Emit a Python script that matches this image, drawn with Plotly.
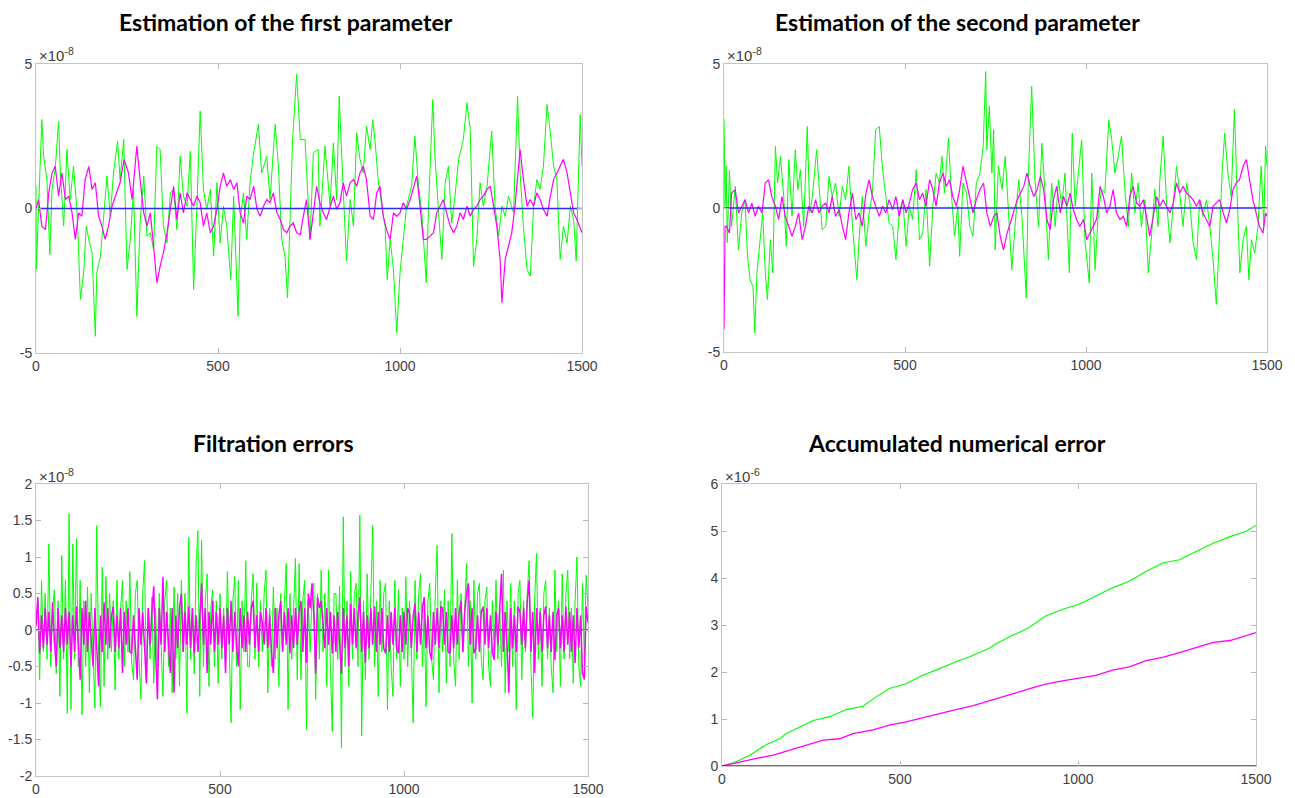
import plotly.graph_objects as go

# The page body adds an 8px margin around the figure; fit the figure into the rest
PAGE_W, PAGE_H, BODY_MARGIN = 1295, 798, 8
W, H = PAGE_W - 2 * BODY_MARGIN, PAGE_H - BODY_MARGIN

# ---------------- data (values in units of the axis exponent) ----------------
# Panel 1: estimation of the first parameter (x1e-8)
p1_green_x = [0, 1, 16, 21, 30, 38, 44, 53, 62, 67,
              76, 85, 94, 103, 113, 122, 131, 138, 145, 154,
              163, 167, 177, 186, 195, 204, 213, 224, 231, 241,
              250, 259, 268, 277, 286, 296, 305, 314, 323, 332,
              341, 350, 360, 369, 378, 387, 396, 405, 415, 424,
              433, 442, 451, 460, 469, 479, 488, 497, 506, 515,
              524, 535, 543, 555, 561, 570, 579, 588, 598, 611,
              620, 634, 643, 657, 666, 675, 684, 691, 698, 705,
              716, 726, 739, 753, 762, 775, 780, 794, 808, 817,
              826, 833, 840, 844, 853, 863, 872, 881, 890, 899,
              908, 918, 925, 931, 940, 950, 959, 965, 973, 982,
              991, 1000, 1009, 1018, 1032, 1041, 1051, 1060, 1072, 1078,
              1090, 1096, 1106, 1115, 1124, 1133, 1142, 1151, 1161, 1174,
              1184, 1193, 1202, 1211, 1220, 1229, 1239, 1252, 1261, 1271,
              1280, 1289, 1298, 1312, 1323, 1330, 1339, 1349, 1358, 1367,
              1376, 1385, 1394, 1404, 1413, 1422, 1431, 1440, 1449, 1459,
              1468, 1477, 1484, 1491, 1495, 1500]
p1_green_y = [0.8, -2.1, 3.08, 1.81, 1.0, -1.59, 0.66, 1.41, 3.02, 1.23,
              -0.61, 2.04, 0.31, 1.46, -0.15, -3.15, -2.23, -0.61, -1.07, -1.53,
              -4.42, -2.23, -1.65, -0.38, 1.12, -0.27, 1.23, 2.33, 1.0, 2.39,
              -2.11, -1.07, 0.66, -3.73, -0.5, 1.12, -0.96, -0.84, -1.42, 2.16,
              2.04, -0.61, -1.19, 0.54, 0.66, -0.73, 1.81, 0.43, 0.08, 1.98,
              -2.8, 0.08, 3.37, 0.66, -0.03, 0.66, -1.65, 0.89, -1.19, 0.08,
              -0.61, -2.46, 0.43, -3.73, -0.38, 0.54, -1.07, 0.89, 1.93, 2.91,
              1.23, 1.81, 0.31, 2.91, 1.46, -1.07, -1.65, -3.09, 0.08, 2.39,
              4.64, 2.39, 2.39, -1.07, 1.93, 2.04, -0.61, 2.16, 0.08, 2.27,
              0.31, 3.89, 1.81, 0.54, -1.82, 0.31, -0.61, 2.62, 1.7, 1.23,
              2.85, 2.04, 3.08, 2.39, 1.0, 0.08, -0.61, -2.46, -1.07, -2.11,
              -4.3, -2.23, -1.07, 0.08, 0.77, 2.5, 0.77, -0.15, -2.57, -0.15,
              3.77, 1.81, -0.15, -1.76, 0.89, 1.46, -0.5, 0.43, 1.7, 2.39,
              3.66, 2.73, -2.0, -1.07, 0.89, 0.08, 0.77, 2.68, 0.08, -0.96,
              0.08, -0.27, 0.43, -0.15, 3.89, 1.23, -0.61, -2.11, -2.34, 0.08,
              1.0, 0.66, 1.46, 3.6, 2.62, 1.46, 1.0, -1.76, -0.61, -1.19,
              0.08, -0.38, -1.82, 1.46, 3.25, 1.46]

p1_mag_x = [0, 7, 16, 26, 35, 44, 53, 62, 71, 81,
            90, 99, 108, 117, 126, 135, 145, 154, 163, 172,
            181, 190, 199, 209, 218, 231, 242, 254, 264, 277,
            286, 296, 305, 314, 323, 332, 341, 350, 360, 369,
            378, 387, 396, 405, 415, 424, 433, 442, 451, 460,
            469, 479, 488, 497, 506, 515, 524, 534, 543, 552,
            561, 570, 579, 588, 598, 607, 616, 625, 634, 643,
            652, 662, 671, 680, 689, 698, 707, 716, 726, 734,
            743, 753, 762, 771, 780, 789, 798, 808, 817, 826,
            835, 844, 853, 863, 872, 881, 890, 899, 908, 918,
            927, 936, 945, 954, 963, 973, 982, 991, 1000, 1009,
            1018, 1028, 1037, 1046, 1055, 1064, 1073, 1083, 1092, 1101,
            1110, 1119, 1128, 1138, 1147, 1156, 1165, 1174, 1184, 1193,
            1202, 1211, 1220, 1229, 1239, 1248, 1257, 1266, 1275, 1280,
            1289, 1298, 1307, 1316, 1326, 1330, 1339, 1349, 1358, 1367,
            1376, 1385, 1394, 1404, 1413, 1422, 1431, 1440, 1449, 1459,
            1468, 1477, 1486, 1500]
p1_mag_y = [0.0, 0.31, -0.61, -0.73, 0.54, 1.23, 1.46, 0.43, 1.23, 0.31,
            0.43, -0.15, -1.07, -0.15, -0.27, 1.0, 1.46, 0.66, 0.89, -0.27,
            -0.61, -1.07, -0.61, 0.08, 0.43, 0.89, 1.7, 1.23, 0.31, 2.16,
            1.0, -0.15, -0.61, -0.15, -1.3, -2.57, -2.0, -1.53, -0.84, -0.03,
            0.77, -0.38, 0.54, -0.15, 0.54, 0.31, 0.08, 0.43, 0.2, -0.61,
            -0.15, -0.84, -0.61, -0.03, 0.77, 1.23, 0.77, 1.0, 0.66, 0.89,
            -0.15, -0.5, 0.43, 0.31, 0.77, -0.03, -0.27, 0.08, 0.31, 0.2,
            0.54, -0.15, -0.38, -0.73, -0.84, -0.61, -0.5, -0.84, -0.9, -0.3,
            0.31, -1.07, -0.03, 0.77, 0.2, -0.15, -0.38, 0.08, 0.43, -0.03,
            0.2, 0.89, 0.43, 0.89, 1.0, 0.77, 1.23, 1.46, 1.0, -0.27,
            -0.38, 0.54, 0.77, -0.27, -0.73, -1.07, -0.15, -0.27, -0.15, 0.2,
            -0.03, 0.31, 0.77, 1.12, 0.08, -1.07, -1.07, -0.96, -0.84, -0.15,
            0.08, 0.31, -0.15, -0.61, -0.84, -0.61, -0.15, -0.38, 0.08, -0.27,
            -0.03, 0.08, 0.31, 0.43, 0.66, 0.77, 0.08, -0.61, -1.76, -3.26,
            -1.76, -1.3, -0.84, 0.08, 1.58, 2.04, 1.0, 0.08, 0.31, 0.08,
            0.54, 0.31, -0.03, -0.27, 0.43, 1.0, 1.23, 1.46, 1.7, 1.23,
            0.54, -0.15, -0.38, -0.84]

# Panel 2: estimation of the second parameter (x1e-8)
p2_green_x = [0, 3, 6, 9, 15, 21, 31, 40, 49, 58,
              65, 72, 80, 85, 91, 100, 107, 114, 120, 128,
              135, 142, 148, 156, 165, 172, 179, 188, 197, 204,
              211, 220, 230, 237, 244, 256, 262, 271, 281, 290,
              299, 308, 318, 327, 336, 345, 355, 367, 373, 382,
              392, 401, 410, 419, 429, 438, 447, 456, 466, 475,
              484, 494, 503, 512, 521, 531, 540, 549, 558, 568,
              577, 586, 595, 602, 609, 620, 628, 637, 646, 651,
              660, 670, 679, 688, 697, 707, 716, 723, 726, 733,
              740, 745, 749, 758, 768, 777, 786, 795, 804, 814,
              823, 835, 841, 850, 859, 869, 878, 887, 896, 905,
              915, 924, 933, 942, 954, 962, 970, 979, 988, 997,
              1009, 1016, 1025, 1034, 1043, 1052, 1063, 1071, 1080, 1089,
              1098, 1108, 1117, 1126, 1135, 1144, 1153, 1163, 1172, 1181,
              1190, 1199, 1204, 1213, 1222, 1232, 1241, 1250, 1259, 1268,
              1278, 1287, 1296, 1305, 1314, 1323, 1333, 1342, 1351, 1360,
              1369, 1376, 1383, 1392, 1401, 1410, 1418, 1425, 1434, 1443,
              1450, 1457, 1466, 1475, 1484, 1491, 1496, 1500]
p2_green_y = [3.1, 0.06, 1.45, -1.2, 1.3, -0.64, 0.75, -1.45, -0.17, 0.29,
              -1.68, -2.49, -2.72, -4.34, -2.25, -1.1, -0.17, -2.25, -3.18, -1.1,
              -2.25, 2.14, 0.87, 1.79, 0.4, -1.33, 1.68, -0.29, 2.02, 0.64,
              1.33, -0.64, 2.83, -0.17, 0.4, 2.02, 0.98, -0.75, -0.64, 1.1,
              0.4, 0.87, -0.29, 0.75, 0.29, 1.45, -0.64, -2.49, -1.1, 0.4,
              -1.33, -0.17, 0.52, 2.72, 2.83, 1.33, 0.4, -0.52, -0.64, -1.79,
              -0.17, 0.29, -1.33, 0.06, -0.4, 1.33, -1.1, -0.87, 0.64, -2.02,
              0.06, 1.21, 0.87, 1.79, 0.52, 2.43, 0.52, -0.98, 0.06, -1.68,
              0.87, 0.52, -0.64, -0.98, 0.87, 1.21, 2.14, 4.74, 2.02, 3.53,
              1.21, 2.72, -1.45, 1.45, 0.64, 1.79, -0.17, -2.14, -0.64, 0.98,
              -0.29, -3.12, 1.21, 4.22, 0.98, -0.64, 2.25, 0.52, -1.79, 0.87,
              -0.64, 0.98, 0.06, 1.21, -2.25, 2.6, 0.06, 1.1, 2.37, -1.1,
              -2.6, 1.21, -2.14, -0.17, 0.64, 0.52, 3.06, 2.37, 1.21, 1.79,
              2.49, 0.52, -0.64, 1.21, -0.17, 0.87, -0.64, 0.29, -2.25, -0.98,
              0.64, -0.64, 0.98, 2.49, 0.29, -1.21, 0.29, 1.45, 0.52, -0.64,
              0.87, 0.17, -1.21, -1.79, 0.29, -0.29, 0.29, -0.64, -1.79, -3.35,
              -0.87, 1.21, 2.6, 1.21, 0.4, 3.41, 0.29, -2.25, -1.1, -0.64,
              -2.49, -1.1, -1.56, -0.64, 1.45, -0.64, 2.14, 1.45]

p2_mag_x = [0, 3, 7, 15, 21, 31, 40, 49, 58, 68,
            77, 86, 95, 105, 114, 123, 132, 142, 151, 160,
            169, 179, 188, 197, 206, 216, 225, 234, 244, 253,
            262, 271, 281, 290, 299, 308, 318, 327, 336, 345,
            355, 364, 373, 382, 392, 401, 410, 419, 429, 438,
            447, 456, 466, 475, 484, 494, 503, 512, 521, 531,
            540, 549, 558, 568, 577, 586, 595, 605, 614, 623,
            632, 642, 651, 660, 670, 679, 688, 697, 707, 717,
            726, 736, 745, 754, 763, 772, 782, 791, 800, 810,
            819, 828, 837, 846, 856, 865, 874, 883, 892, 901,
            910, 919, 929, 938, 947, 956, 965, 974, 983, 993,
            1002, 1011, 1020, 1029, 1039, 1048, 1057, 1066, 1075, 1084,
            1094, 1103, 1112, 1121, 1130, 1140, 1149, 1158, 1167, 1176,
            1186, 1195, 1204, 1213, 1222, 1232, 1241, 1250, 1259, 1268,
            1278, 1287, 1296, 1305, 1314, 1323, 1333, 1342, 1351, 1360,
            1369, 1379, 1388, 1397, 1406, 1415, 1424, 1434, 1443, 1452,
            1461, 1470, 1479, 1489, 1496, 1500]
p2_mag_y = [-4.22, -0.64, -0.64, -0.87, 0.52, 0.64, -0.17, 0.06, 0.29, -0.17,
            0.17, -0.29, 0.06, -0.17, 0.87, 0.98, 0.4, 0.06, -0.4, 0.4,
            -0.29, -0.64, -0.98, -0.64, -0.17, -1.1, -0.64, 0.06, -0.17, 0.29,
            -0.17, 0.06, 0.17, -0.17, 0.4, -0.29, -0.06, -0.64, -1.1, -0.17,
            0.52, -0.4, -0.17, -0.64, 0.52, 0.98, 0.4, 0.06, -0.29, 0.06,
            -0.17, 0.29, -0.06, 0.4, -0.29, 0.29, -0.17, 0.17, 0.64, 0.87,
            0.29, 0.52, 0.06, 0.98, 0.64, 0.06, 0.87, 1.21, 0.75, 0.98,
            0.4, 0.06, 0.64, 1.45, 0.87, 0.29, -0.17, 0.29, 0.64, 0.87,
            -0.17, -0.64, -0.29, -0.17, -0.98, -1.45, -0.87, -0.52, -0.17, 0.29,
            0.52, 0.75, 1.21, 0.75, 0.4, 0.64, 1.1, 0.64, -0.4, -0.75,
            0.29, 0.75, -0.17, 0.4, 0.06, 0.52, -0.06, -0.4, -0.64, -0.4,
            -1.1, -0.87, -0.64, -0.4, 0.75, 0.4, -0.17, 0.06, 0.64, -0.17,
            -0.4, -0.29, -0.64, 0.4, 0.75, 0.17, 0.06, 0.29, -0.29, -0.98,
            -0.29, 0.4, 0.06, 0.29, 0.06, -0.17, 0.17, 0.87, 0.52, 0.75,
            0.52, 0.4, 0.29, 0.06, 0.29, -0.17, -0.4, -0.64, 0.06, 0.17,
            0.29, -0.17, -0.52, -0.06, 0.64, 0.87, 0.98, 1.45, 1.68, 0.98,
            0.29, -0.17, -0.64, -0.87, -0.17, -0.29]

# Panel 3: filtration errors (x1e-8), one value every 5 steps
P3_STEP = 5
p3_green_y = [
    0.1, 0.4, -0.68, 0.68, -0.3, 0.5, -0.4, 1.18, -0.5, 0.3, 0.55, -0.6, 0.4, -0.91, 1.02, -0.4, 0.68, -1.14, 1.59, -1.09,
    1.18, -0.4, 1.25, -0.5, 0.68, -1.16, 0.4, -0.5, 0.59, -0.86, 0.5, -0.4, -1.07, 1.43, -0.3, -1.05, 0.86, -0.77, 0.73, -0.4,
    0.5, -0.3, 0.4, -0.82, 0.68, -0.4, 0.3, 0.68, -0.5, 0.4, -0.3, 0.8, -0.45, -0.68, 0.5, 0.68, -0.4, -0.95, 0.5, 0.95,
    -0.73, 0.3, -0.4, 0.45, -0.73, 0.3, -0.5, 0.5, -0.3, -0.91, 0.4, 0.68, -0.5, 0.3, -0.86, 0.59, -0.4, 0.5, -0.77, 0.68,
    -0.3, 0.5, -1.14, 1.27, -0.4, 0.3, -0.6, 0.9, 1.36, -0.91, 1.23, -0.5, 0.4, 0.77, -0.77, 0.3, 0.55, -0.5, 0.4, -0.73,
    0.5, -0.4, 0.3, -0.5, 0.8, -0.3, -1.27, 0.4, 0.73, -0.5, 0.68, -1.09, 0.4, -0.3, 0.95, -0.5, -0.5, 0.4, 0.77, -0.4,
    0.64, -0.5, 0.4, -0.3, 0.5, 0.82, -0.86, 0.3, -0.5, 0.59, -0.4, 0.3, -0.77, 0.5, -0.3, 0.4, 0.91, -1.09, 0.5, -0.4,
    0.3, 0.98, -0.68, 0.91, -0.68, 0.4, 0.68, -1.36, 0.4, -0.3, 0.5, 0.64, -0.95, 0.5, -0.4, 0.82, -0.3, 0.5, -0.77, 0.82,
    -0.5, -1.39, 0.5, 0.5, -0.4, 0.6, -1.61, 1.55, -0.5, 0.4, -0.77, 0.8, -0.4, 0.5, 0.64, -0.5, 1.57, -1.45, 0.4, -0.68,
    0.77, -0.4, 0.5, 1.43, -0.5, 0.4, -0.91, 0.68, -0.3, 0.5, 0.64, -1.09, 0.4, -0.5, -0.91, 0.68, -0.4, 0.55, -0.77, 0.3,
    -0.4, 0.73, -0.5, 0.4, -0.3, -1.27, 0.68, -0.4, 0.5, 0.77, -0.5, 0.3, -1.05, 0.4, 0.64, -0.4, -0.68, 0.5, 1.16, -0.86,
    0.4, -0.3, 0.55, -0.73, 0.4, -0.5, 1.32, -0.4, -0.77, 0.68, -0.4, 0.5, -0.3, 0.4, 0.91, -0.5, 0.4, -1.0, 0.68, -0.4,
    0.5, 0.64, -0.4, -0.68, 0.4, 0.59, -0.5, -0.77, 0.4, -0.3, 0.68, -0.4, 0.3, -0.5, 0.82, -0.86, 0.4, -0.3, 0.64, -0.5,
    0.4, -1.09, 0.5, 0.68, -0.68, 0.4, -0.3, 0.5, 0.95, -0.5, -1.2, 0.4, 1.05, -0.4, 0.3, -0.77, 0.5, 0.68, -0.4, 0.3,
    -0.5, -0.86, 0.82, -0.3, 0.4, -0.77, 0.77, -0.4, 0.5, 0.82, -0.4, 0.3, -0.73, 0.4, 1.0, -0.5, -0.77, 0.64, -0.4, 0.75,
    0.3]
p3_mag_y = [
    0.05, 0.45, -0.32, 0.2, -0.25, 0.3, -0.2, 0.25, -0.3, 0.38, -0.15, -0.5, 0.3, -0.25, 0.2, -0.3, 0.3, -0.2, 0.25, -0.5,
    0.2, -0.3, 0.32, -0.25, -0.68, 0.3, -0.2, 0.4, -0.3, 0.25, -0.2, -0.5, 0.3, -0.25, -0.77, 0.2, -0.3, 0.38, -0.2, 0.3,
    -0.25, 0.2, 0.32, -0.3, 0.2, -0.25, 0.3, -0.59, 0.25, -0.2, 0.3, -0.3, -0.32, 0.2, -0.25, -0.68, 0.3, -0.2, 0.25, -0.3,
    -0.73, 0.3, -0.2, 0.25, 0.6, -0.3, -0.95, 0.3, -0.2, 0.73, -0.3, 0.25, -0.2, -0.59, 0.3, -0.86, 0.2, -0.25, 0.3, 0.5,
    -0.3, 0.25, -0.2, 0.32, -0.25, 0.3, -0.32, 0.2, -0.3, 0.25, 0.64, -0.2, 0.3, -0.59, 0.25, -0.2, 0.4, -0.3, 0.25, -0.2,
    0.3, -0.25, 0.2, -0.59, 0.3, -0.2, 0.4, -0.3, 0.25, -0.2, -0.5, 0.3, -0.25, 0.2, -0.3, 0.25, -0.2, 0.3, 0.4, -0.25,
    0.2, -0.3, 0.25, 0.1, -0.2, 0.3, -0.25, 0.2, -0.3, -0.59, 0.3, -0.25, 0.2, 0.4, -0.3, 0.25, -0.2, 0.3, -0.32, 0.2,
    -0.25, 0.3, -0.2, 0.25, 0.4, -0.3, 0.3, -0.45, 0.5, 0.3, 0.64, 0.2, -0.6, 0.45, 0.3, 0.4, 0.1, -0.25, 0.3, -0.2,
    0.25, -0.32, 0.2, -0.3, 0.25, -0.2, -0.6, 0.3, -0.25, 0.2, -0.5, 0.36, -0.2, 0.3, -0.25, 0.2, 0.45, -0.3, 0.25, -0.45,
    0.2, -0.25, 0.3, -0.2, 0.32, -0.3, 0.25, -0.2, 0.3, -0.25, -0.32, 0.2, -0.3, 0.25, -0.2, 0.3, -0.25, -0.32, 0.2, -0.3,
    0.25, -0.2, 0.3, 0.23, -0.25, 0.2, 0.36, -0.3, 0.25, -0.2, 0.3, 0.45, -0.25, 0.2, -0.3, -0.41, 0.25, -0.2, 0.3, -0.25,
    0.32, 0.3, -0.2, 0.25, -0.3, -0.32, 0.2, -0.25, 0.3, -0.2, 0.25, 0.4, -0.3, 0.25, 0.5, 0.64, -0.2, 0.3, -0.32, -0.25,
    0.2, -0.3, 0.25, 0.32, -0.2, 0.3, -0.25, 0.2, -0.3, -0.41, 0.25, -0.2, 0.3, 0.77, -0.3, 0.25, -0.2, -0.86, 0.3, -0.25,
    0.2, -0.3, 0.32, 0.25, -0.2, 0.3, -0.25, 0.4, 0.68, -0.3, 0.25, -0.59, 0.3, -0.2, 0.25, -0.3, 0.2, 0.32, -0.25, 0.2,
    -0.3, 0.25, -0.41, 0.2, 0.3, -0.25, 0.2, -0.3, 0.32, -0.2, 0.25, -0.3, 0.2, -0.45, 0.3, -0.25, 0.2, -0.59, -0.68, 0.32,
    0.1]

# Panel 4: accumulated numerical error (x1e-6)
p4_green_x = [0, 25, 50, 78, 125, 162, 181, 218, 256, 302, 349, 396, 433, 470, 517, 563, 601, 657, 694,
              750, 767, 814, 862, 909, 956, 1003, 1050, 1097, 1144, 1191, 1238, 1285, 1333, 1380, 1427, 1474, 1500]
p4_green_y = [0, 0.05, 0.13, 0.23, 0.46, 0.58, 0.69, 0.83, 0.97, 1.05, 1.2, 1.27, 1.47, 1.65, 1.75, 1.93, 2.04, 2.22, 2.32,
              2.5, 2.59, 2.77, 2.94, 3.19, 3.33, 3.44, 3.61, 3.79, 3.93, 4.14, 4.32, 4.39, 4.57, 4.74, 4.88, 5.0, 5.12]
p4_mag_x = [0, 50, 97, 144, 190, 237, 284, 330, 368, 424, 470, 517, 563, 610, 657, 703, 750,
            767, 814, 862, 909, 956, 1003, 1050, 1097, 1144, 1191, 1238, 1285, 1333, 1380, 1427, 1474, 1500]
p4_mag_y = [0, 0.09, 0.16, 0.23, 0.33, 0.44, 0.55, 0.58, 0.69, 0.77, 0.87, 0.94, 1.03, 1.12, 1.2, 1.28, 1.38,
            1.42, 1.53, 1.64, 1.74, 1.81, 1.87, 1.93, 2.04, 2.11, 2.24, 2.31, 2.41, 2.52, 2.63, 2.67, 2.77, 2.84]

zero_x = [0, 1500]
zero_y = [0, 0]

titles = ["Estimation of the first parameter", "Estimation of the second parameter",
          "Filtration errors", "Accumulated numerical error"]
exponents = ["-8", "-8", "-8", "-6"]
x_ticks = [0, 500, 1000, 1500]
y_ticks = [[-5, 0, 5], [-5, 0, 5], [-2, -1.5, -1, -0.5, 0, 0.5, 1, 1.5, 2], [0, 1, 2, 3, 4, 5, 6]]
y_ranges = [[-5, 5], [-5, 5], [-2, 2], [0, 6]]

# ---------------- styling ----------------
GREEN = "#00ff00"
MAGENTA = "#ff00ff"
BLUE = "#2a2aff"
TICK_FONT = dict(family="Liberation Sans, Arial, sans-serif", size=14, color="#404040")
TITLE_FONT = dict(family="Lato, Open Sans, sans-serif", size=23, color="#000000")

# panel boxes in page pixels: left, right, top, bottom
boxes = [(36, 582, 64, 353), (724, 1267, 64, 352), (36, 588, 484, 776), (722, 1256, 484, 766)]
title_pos = [(286, 22), (957, 22), (273, 443), (957, 443)]


def px(x):
    return (x - BODY_MARGIN) / W


def py(y):
    return 1 - (y - BODY_MARGIN) / H


fig = go.Figure()


def line(x, y, color, width, axis):
    fig.add_trace(go.Scatter(x=x, y=y, mode="lines", line=dict(color=color, width=width),
                             xaxis="x" + axis, yaxis="y" + axis, showlegend=False,
                             hoverinfo="skip"))


p3_x = [P3_STEP * i for i in range(len(p3_green_y))]
p3_mx = [P3_STEP * i for i in range(len(p3_mag_y))]

# panel 1
line(p1_green_x, p1_green_y, GREEN, 1, "")
line(p1_mag_x, p1_mag_y, MAGENTA, 1.2, "")
line(zero_x, zero_y, BLUE, 1.4, "")
# panel 2
line(p2_green_x, p2_green_y, GREEN, 1, "2")
line(p2_mag_x, p2_mag_y, MAGENTA, 1.2, "2")
line(zero_x, zero_y, BLUE, 1.4, "2")
# panel 3
line(zero_x, zero_y, BLUE, 1.4, "3")
line(p3_x, p3_green_y, GREEN, 1, "3")
line(p3_mx, p3_mag_y, MAGENTA, 1.5, "3")
# panel 4
line(p4_green_x, p4_green_y, GREEN, 1.1, "4")
line(p4_mag_x, p4_mag_y, MAGENTA, 1.3, "4")
line(zero_x, zero_y, BLUE, 1.6, "4")

layout = dict(width=W, height=H, margin=dict(l=0, r=0, t=0, b=0, autoexpand=False),
              paper_bgcolor="white", plot_bgcolor="white", showlegend=False)
annotations = []
axis_common = dict(showgrid=False, zeroline=False, showline=True, linecolor="#c4c4c4", linewidth=1,
                   mirror="ticks", ticks="inside", ticklen=5, tickcolor="#b8b8b8", tickwidth=1,
                   tickfont=TICK_FONT, fixedrange=True, automargin=False)
for i, (l, r, t, b) in enumerate(boxes):
    sfx = "" if i == 0 else str(i + 1)
    layout["xaxis" + sfx] = dict(axis_common, domain=[px(l), px(r)], range=[0, 1500],
                                 tickvals=x_ticks, ticktext=[str(v) for v in x_ticks],
                                 anchor="y" + sfx)
    layout["yaxis" + sfx] = dict(axis_common, domain=[py(b), py(t)], range=y_ranges[i],
                                 tickvals=y_ticks[i], ticktext=[("%g" % v) for v in y_ticks[i]],
                                 anchor="x" + sfx)
    tx, ty = title_pos[i]
    annotations.append(dict(text="<b>%s</b>" % titles[i], xref="paper", yref="paper",
                            x=px(tx), y=py(ty), xanchor="center", yanchor="middle",
                            showarrow=False, font=TITLE_FONT))
    annotations.append(dict(text="×10<sup>%s</sup>" % exponents[i], xref="paper", yref="paper",
                            x=px(l + 1), y=py(t - 9), xanchor="left", yanchor="middle",
                            showarrow=False, font=dict(family="Liberation Sans, Arial, sans-serif",
                                                       size=15, color="#404040")))
layout["annotations"] = annotations
fig.update_layout(**layout)
fig.write_html("out.html")
